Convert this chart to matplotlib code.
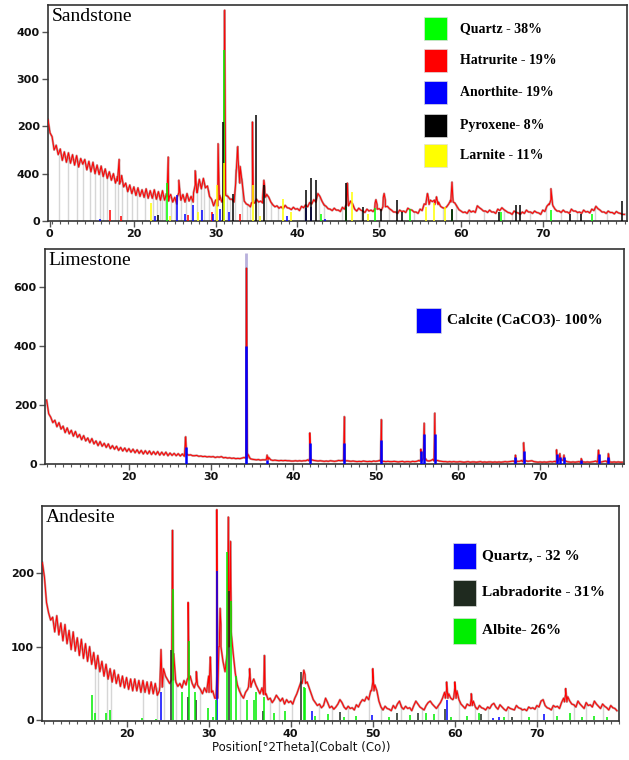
import numpy as np
import matplotlib.pyplot as plt
from matplotlib.patches import Rectangle

# ---------------- data ----------------
# background counts on a 0.25 degree grid, starting at the *_bg_start value
sand_bg_start = 9.5
sand_bg = [214, 186,
           178, 150, 160, 140, 152, 128, 146, 124, 144, 122, 140, 118, 138, 114, 132, 120,
           130, 108, 126, 104, 124, 100, 118, 98, 116, 94, 110, 90, 104, 86, 100, 80,
           94, 78, 96, 72, 80, 62, 76, 58, 72, 54, 70, 52, 66, 50, 68, 48,
           64, 48, 66, 46, 62, 44, 64, 44, 58, 42, 56, 40, 50, 36, 60, 44,
           56, 40, 58, 42, 52, 40, 76, 60, 88, 68, 90, 70, 74, 52, 46, 32,
           44, 32, 54, 40, 62, 54, 52, 46, 46, 40, 100, 130, 115, 80, 42, 36,
           34, 30, 40, 38, 46, 40, 42, 38, 72, 56, 50, 40, 34, 30, 32, 27,
           30, 26, 33, 28, 27, 24, 29, 25, 26, 22, 31, 28, 34, 30, 39, 36,
           45, 40, 58, 52, 42, 34, 31, 26, 25, 22, 27, 23, 23, 20, 29, 25,
           36, 32, 42, 36, 25, 21, 27, 23, 21, 18, 25, 21, 23, 20, 38, 34,
           26, 22, 50, 44, 31, 26, 23, 19, 19, 16, 23, 20, 21, 18, 27, 24,
           23, 19, 19, 16, 25, 22, 36, 42, 50, 44, 41, 44, 48, 40, 31, 28,
           27, 30, 36, 44, 50, 38, 31, 24, 21, 18, 19, 16, 23, 19, 21, 18,
           32, 28, 25, 21, 21, 18, 23, 19, 19, 16, 25, 22, 28, 24, 21, 18,
           17, 14, 21, 18, 17, 14, 19, 16, 23, 19, 19, 16, 21, 18, 17, 14,
           23, 20, 31, 36, 45, 32, 25, 21, 21, 18, 23, 19, 19, 16, 25, 21,
           21, 18, 19, 16, 23, 19, 20, 17, 25, 22, 31, 26, 23, 19, 19, 16,
           21, 18, 18, 15, 20, 17, 16, 14, 14]
# sharp peaks: position, top, base, half width
sand_pk_pos = [18.2, 24.2, 25.5, 27.5, 30.3, 31.1, 32.7, 34.5, 35.9, 46.1, 49.6, 50.6, 55.9, 57.0, 58.9, 71.0]
sand_pk_top = [130, 135, 86, 106, 163, 445, 157, 209, 86, 80, 45, 58, 58, 51, 82, 68]
sand_pk_base = [85, 52, 50, 60, 45, 55, 80, 38, 50, 35, 25, 30, 35, 35, 40, 35]
sand_pk_hw = [0.2, 0.15, 0.2, 0.2, 0.15, 0.12, 0.25, 0.12, 0.15, 0.12, 0.15, 0.15, 0.2, 0.2, 0.15, 0.2]

sand_phases = ["Quartz - 38%", "Hatrurite - 19%", "Anorthite- 19%", "Pyroxene- 8%", "Larnite - 11%"]
sand_colors = ["#00ff00", "#ff0000", "#0000ff", "#000000", "#ffff00"]
sand_stick_pos = [
    [24.1, 31.05, 42.9, 46.0, 49.5, 53.8, 58.9, 64.9, 71.0, 76.0],
    [17.1, 18.4, 26.6, 29.6, 33.0],
    [15.9, 22.6, 25.3, 26.2, 27.2, 28.3, 29.7, 30.5, 31.6, 38.7, 41.0, 41.7, 43.4],
    [23.0, 30.9, 32.1, 34.9, 35.9, 41.1, 41.7, 42.3, 46.0, 48.0, 50.2, 52.2, 52.8, 58.9,
     64.7, 66.7, 67.2, 73.3, 74.7, 79.7],
    [22.1, 24.4, 27.9, 30.2, 31.0, 34.6, 35.4, 38.2, 39.2, 46.7, 48.6, 55.7, 56.7, 58.1],
]
sand_stick_h = [
    [80, 360, 15, 30, 27, 25, 23, 20, 23, 15],
    [23, 10, 12, 20, 15],
    [5, 10, 55, 15, 33, 23, 15, 25, 20, 10, 27, 30, 5],
    [12, 210, 58, 223, 76, 65, 90, 87, 80, 30, 25, 44, 20, 25, 20, 34, 34, 15, 15, 42],
    [37, 10, 20, 76, 122, 76, 10, 47, 20, 61, 15, 30, 37, 30],
]
sand_grey_pos = [10.8, 12.0, 13.1, 13.8, 14.6, 15.3, 15.9, 16.2, 16.7, 17.7, 18.0, 18.6, 19.2, 19.8,
                 20.4, 21.3, 22.4, 22.8, 23.2, 23.5, 23.8, 24.6, 25.0, 25.8, 26.4, 27.0, 27.7, 28.2,
                 28.6, 29.2, 29.9, 31.4, 31.8, 32.4, 33.2, 33.8, 34.2, 35.2, 36.2, 36.8, 37.6, 40.8,
                 42.6, 43.2, 45.5, 47.8, 51.2, 54.2, 57.8, 59.4, 61.0, 62.8, 65.3, 66.2, 68.4, 70.4,
                 72.2, 74.2, 76.4, 77.8]
sand_grey_h = [140, 135, 130, 120, 115, 112, 105, 104, 100, 90, 85, 80, 72, 62,
               60, 58, 58, 56, 55, 55, 52, 50, 45, 50, 52, 46, 80, 80,
               82, 65, 40, 60, 50, 110, 90, 35, 32, 42, 60, 40, 30, 30,
               50, 38, 28, 22, 25, 22, 28, 35, 22, 22, 24, 18, 18, 28,
               20, 20, 28, 20]

lime_bg_start = 10.0
lime_bg = [216, 170, 158, 140, 148, 126, 140, 118, 128, 106, 122, 102, 114, 94, 110, 90,
           100, 82, 96, 78, 88, 72, 86, 68, 78, 62, 76, 60, 70, 56, 68, 52,
           62, 50, 60, 46, 56, 44, 54, 42, 52, 40, 50, 38, 48, 36, 46, 34,
           45, 34, 44, 32, 42, 32, 42, 30, 40, 30, 40, 28, 37, 29, 36, 28,
           35, 27, 34, 26, 38, 30, 31, 28, 28, 29, 26, 27, 25, 26, 24, 25,
           24, 25, 22, 24, 23, 25, 21, 22, 20, 21, 19, 20, 18, 19, 18, 20,
           22, 28, 32, 18, 16, 15, 14, 15, 13, 14, 14, 20, 22, 14, 12, 13,
           12, 11, 12, 11, 12, 11, 11, 10, 10, 11, 10, 11, 10, 11, 11, 14,
           20, 14, 12, 11, 10, 11, 10, 9, 10, 9, 11, 10, 9, 10, 12, 11,
           12, 14, 11, 10, 9, 10, 9, 8, 9, 8, 10, 9, 8, 9, 8, 10,
           9, 10, 12, 11, 9, 8, 9, 8, 8, 9, 8, 7, 8, 9, 7, 8,
           8, 7, 9, 8, 9, 12, 14, 18, 14, 11, 10, 12, 16, 18, 12, 10,
           9, 8, 8, 7, 8, 7, 8, 7, 7, 8, 7, 6, 7, 8, 6, 7,
           7, 6, 7, 8, 6, 7, 6, 7, 7, 6, 7, 6, 7, 6, 7, 8,
           7, 8, 9, 10, 12, 9, 9, 12, 14, 11, 9, 10, 11, 8, 7, 6,
           7, 6, 7, 6, 7, 8, 7, 9, 12, 14, 14, 12, 10, 8, 7, 6,
           7, 6, 7, 8, 9, 7, 6, 7, 6, 7, 8, 10, 10, 8, 7, 9,
           10, 9, 7, 6, 7, 6, 7, 6, 6]
lime_pk_pos = [26.9, 34.3, 36.8, 42.0, 46.2, 50.7, 55.5, 55.9, 57.2, 67.0, 68.0, 72.0, 72.4, 72.9, 75.0, 77.1, 78.3]
lime_pk_top = [92, 662, 30, 105, 160, 150, 50, 138, 172, 30, 72, 48, 35, 30, 18, 47, 35]
lime_pk_base = [34, 20, 14, 11, 10, 9, 10, 20, 10, 7, 8, 7, 15, 12, 6, 6, 6]
lime_pk_hw = [0.12, 0.1, 0.12, 0.12, 0.1, 0.1, 0.12, 0.1, 0.1, 0.12, 0.15, 0.12, 0.1, 0.12, 0.15, 0.15, 0.15]
lime_phases = ["Calcite (CaCO3)- 100%"]
lime_colors = ["#0000ff"]
lime_stick_pos = [lime_pk_pos]
lime_stick_h = [[58, 400, 14, 72, 70, 80, 45, 100, 100, 22, 45, 35, 25, 22, 12, 35, 25]]
lime_halo_pos = [34.3]
lime_halo_h = [712]

ande_bg_start = 9.75
ande_bg = [214,
           194, 160, 146, 136, 140, 120, 142, 116, 132, 108, 130, 104, 122, 96, 120, 94,
           112, 88, 110, 84, 104, 80, 100, 76, 92, 70, 88, 66, 80, 60, 76, 56,
           70, 52, 68, 50, 62, 46, 60, 44, 58, 42, 56, 40, 56, 40, 54, 38,
           54, 38, 52, 36, 52, 36, 50, 34, 40, 80, 70, 60, 55, 50, 60, 90,
           52, 46, 50, 44, 54, 48, 58, 60, 50, 44, 52, 46, 42, 36, 44, 38,
           60, 74, 40, 30, 60, 100, 130, 80, 66, 90, 110, 150, 90, 64, 48, 40,
           34, 30, 38, 42, 62, 50, 56, 48, 42, 36, 44, 60, 36, 28, 30, 24,
           28, 34, 30, 26, 30, 22, 28, 24, 26, 22, 30, 36, 44, 52, 58, 62,
           52, 44, 36, 28, 24, 20, 22, 17, 20, 30, 24, 17, 19, 15, 18, 22,
           28, 24, 18, 15, 19, 16, 17, 14, 21, 18, 24, 28, 26, 32, 28, 40,
           52, 48, 40, 26, 18, 14, 19, 16, 15, 13, 20, 16, 22, 26, 18, 15,
           19, 16, 17, 13, 20, 26, 22, 18, 16, 14, 20, 24, 26, 22, 19, 16,
           20, 24, 30, 38, 42, 36, 30, 28, 44, 40, 28, 22, 19, 16, 22, 20,
           30, 26, 18, 15, 20, 17, 16, 14, 18, 16, 21, 23, 18, 15, 21, 18,
           15, 13, 18, 16, 15, 14, 20, 17, 16, 14, 15, 13, 18, 16, 17, 15,
           20, 18, 26, 28, 20, 17, 16, 14, 20, 18, 19, 16, 24, 30, 36, 32,
           26, 22, 21, 18, 26, 22, 19, 16, 24, 20, 21, 18, 26, 22, 19, 16,
           22, 19, 17, 14, 20, 17, 16, 13]
ande_pk_pos = [24.2, 25.6, 27.5, 28.5, 30.2, 31.0, 31.4, 32.4, 32.65, 35.0, 36.8, 41.6, 50.0, 59.0, 60.0, 62.0, 73.5]
ande_pk_top = [96, 258, 160, 66, 86, 286, 152, 276, 243, 70, 88, 68, 70, 52, 52, 36, 43]
ande_pk_base = [45, 55, 55, 48, 38, 30, 100, 100, 120, 45, 35, 50, 40, 30, 30, 20, 25]
ande_pk_hw = [0.15, 0.12, 0.12, 0.15, 0.15, 0.1, 0.1, 0.1, 0.1, 0.15, 0.1, 0.2, 0.15, 0.15, 0.15, 0.12, 0.15]
ande_phases = ["Quartz, - 32 %", "Labradorite - 31%", "Albite- 26%"]
ande_colors = ["#0000ff", "#1f2a1f", "#00ee00"]
ande_stick_pos = [
    [24.2, 31.0, 42.6, 49.9, 59.0, 64.7, 65.4, 70.9],
    [25.4, 27.5, 28.5, 32.5, 36.6, 41.3, 46.0, 53.0, 55.5, 58.8, 63.2, 67.0],
    [15.8, 16.1, 17.5, 18.0, 21.9, 23.6, 25.7, 26.7, 27.6, 28.4, 29.9, 30.5, 30.9, 32.3,
     32.7, 33.3, 34.7, 35.5, 35.8, 36.8, 38.0, 39.3, 41.6, 41.8, 43.0, 44.5, 46.5, 48.0,
     52.0, 54.5, 56.5, 57.5, 59.5, 61.5, 63.0, 66.0, 69.0, 72.5, 74.0, 75.5, 77.0, 78.5],
]
ande_stick_h = [
    [39, 203, 13, 7, 28, 3, 4, 9],
    [96, 32, 27, 176, 12, 65, 11, 10, 10, 15, 8, 5],
    [34, 10, 10, 14, 3, 2, 178, 39, 107, 38, 16, 5, 28, 229,
     162, 60, 27, 27, 38, 32, 10, 12, 45, 44, 6, 8, 5, 6,
     4, 7, 10, 8, 5, 6, 10, 4, 5, 6, 10, 4, 6, 5],
]
ande_grey_pos = [16.2, 16.5, 17.6, 18.1, 22.0, 23.7, 24.6, 26.0, 29.0, 33.8, 37.5, 38.6, 40.2, 43.5,
                 45.0, 47.0, 49.5, 51.0, 53.5, 56.0, 58.0, 60.5, 62.5, 64.0, 66.5, 68.0, 70.0, 72.0,
                 74.5, 76.0, 78.0]
ande_grey_h = [80, 75, 68, 66, 48, 45, 60, 55, 40, 45, 28, 30, 25, 20,
               16, 16, 30, 18, 22, 16, 20, 26, 18, 16, 15, 18, 18, 18,
               22, 22, 20]

W, H = 629, 760


def fx(px):
    return px / W


def fy(py):
    return 1 - py / H


def trace(bg_start, bg, pk_pos, pk_top, pk_base, pk_hw):
    """Merge background samples and peak triangles into one sorted trace."""
    x = list(bg_start + 0.25 * np.arange(len(bg)))
    y = list(bg)
    for p, t, b, w in zip(pk_pos, pk_top, pk_base, pk_hw):
        x += [p - w, p, p + w]
        y += [b, t, b]
    x = np.array(x)
    y = np.array(y, dtype=float)
    order = np.argsort(x, kind="stable")
    return x[order], y[order]


def panel(box, xlim, ylim, yticks, ylabels, xticks, xlabels, title):
    l, t, r, b = box
    ax = fig.add_axes([fx(l), fy(b), fx(r - l), (b - t) / H])
    ax.set_xlim(*xlim)
    ax.set_ylim(*ylim)
    for s in ax.spines.values():
        s.set_color("#333333")
        s.set_linewidth(1.2)
    ax.set_yticks(yticks)
    ax.set_yticklabels(ylabels, fontsize=8, fontweight="bold", color="#111111")
    ax.set_xticks(xticks)
    ax.set_xticklabels(xlabels, fontsize=8, fontweight="bold", color="#111111")
    ax.set_xticks(np.arange(10, 81, 1), minor=True)
    ax.tick_params(which="major", length=4, width=1, color="#555555", pad=2)
    ax.tick_params(which="minor", length=2.5, width=0.8, color="#555555")
    ax.text(0.006, 0.985, title, transform=ax.transAxes, ha="left", va="top",
            fontsize=14, family="Liberation Serif")
    return ax


def draw_xrd(ax, tx, ty, sticks_pos, sticks_h, colors, stick_lw=1.1):
    # darker noisy envelope under the red scan line
    ax.plot(tx, ty, color="#a04848", lw=1.6, alpha=0.6, zorder=2)
    ax.plot(tx, ty, color="#ff0000", lw=0.7, zorder=3)
    for pos, h, c in zip(sticks_pos, sticks_h, colors):
        ax.vlines(pos, 0, h, color=c, lw=stick_lw, zorder=4)


def draw_key(names, colors, left, tops, w, h, text_x, size):
    for name, c, top in zip(names, colors, tops):
        fig.add_artist(Rectangle((fx(left), fy(top + h)), w / W, h / H, transform=fig.transFigure,
                                 facecolor=c, edgecolor="#dddddd", lw=0.5))
        fig.text(fx(text_x), fy(top + h / 2), name, ha="left", va="center", fontsize=size,
                 fontweight="bold", family="Liberation Serif")


fig = plt.figure(figsize=(W / 100, H / 100), dpi=100)

# Sandstone
ax1 = panel((48, 5, 627, 221), (9.5, 80.3), (0, 456), [0, 100, 200, 300, 400],
            ["0", "400", "200", "300", "400"], [9.7, 20, 30, 40, 50, 60, 70],
            ["0", "20", "30", "40", "50", "60", "70"], "Sandstone")
ax1.vlines(sand_grey_pos, 0, sand_grey_h, color="#d6d6d6", lw=1.0, zorder=1)
sx, sy = trace(sand_bg_start, sand_bg, sand_pk_pos, sand_pk_top, sand_pk_base, sand_pk_hw)
draw_xrd(ax1, sx, sy, sand_stick_pos, sand_stick_h, sand_colors)
draw_key(sand_phases, sand_colors, 424, [17, 49, 81, 114, 144], 23, 23, 460, 10)

# Limestone
ax2 = panel((45, 249, 624, 464), (9.8, 80.2), (0, 727), [0, 200, 400, 600],
            ["0", "200", "400", "600"], [20, 30, 40, 50, 60, 70],
            ["20", "30", "40", "50", "60", "70"], "Limestone")
ax2.vlines(lime_halo_pos, 0, lime_halo_h, color="#b8b0dc", lw=2.0, zorder=1)
lx, ly = trace(lime_bg_start, lime_bg, lime_pk_pos, lime_pk_top, lime_pk_base, lime_pk_hw)
draw_xrd(ax2, lx, ly, lime_stick_pos, lime_stick_h, lime_colors, stick_lw=1.8)
draw_key(lime_phases, lime_colors, 416, [308], 25, 25, 447, 11)

# Andesite
ax3 = panel((42, 506, 619, 721), (9.7, 79.8), (-1, 291), [0, 100, 200],
            ["0", "100", "200"], [20, 30, 40, 50, 60, 70],
            ["20", "30", "40", "50", "60", "70"], "Andesite")
ax3.vlines(ande_grey_pos, 0, ande_grey_h, color="#d6d6d6", lw=1.0, zorder=1)
ax_, ay_ = trace(ande_bg_start, ande_bg, ande_pk_pos, ande_pk_top, ande_pk_base, ande_pk_hw)
draw_xrd(ax3, ax_, ay_, ande_stick_pos, ande_stick_h, ande_colors)
draw_key(ande_phases, ande_colors, 453, [543, 580, 618], 23, 26, 482, 11)

fig.text(fx(301), fy(748), "Position[°2Theta](Cobalt (Co))", ha="center", va="center",
         fontsize=8.5, color="#111111")

fig.savefig("out.png", dpi=100)
